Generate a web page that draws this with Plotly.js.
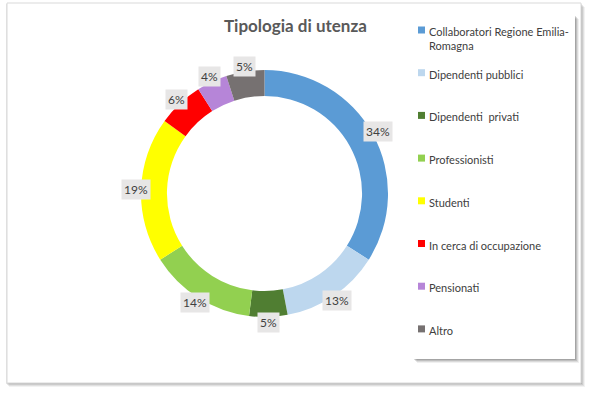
<!DOCTYPE html>
<html>
<head>
<meta charset="utf-8">
<script src="https://cdn.plot.ly/plotly-3.0.1.min.js"></script>
<style>html,body{margin:0;padding:0;background:#fff;}#chart{width:590px;height:395px;}</style>
</head>
<body>
<div id="chart"></div>
<script>
// ---- data ----
const categories = ["Collaboratori Regione Emilia-Romagna", "Dipendenti pubblici", "Dipendenti  privati", "Professionisti", "Studenti", "In cerca di occupazione", "Pensionati", "Altro"];
const legendLabels = ["Collaboratori Regione Emilia-<br>Romagna", "Dipendenti pubblici", "Dipendenti  privati", "Professionisti", "Studenti", "In cerca di occupazione", "Pensionati", "Altro"];
const values = [34, 13, 5, 14, 19, 6, 4, 5];
const colors = ["#5B9BD5", "#BDD7EE", "#507E32", "#92D050", "#FFFF00", "#FF0000", "#B685D8", "#767171"];
const chartTitle = "Tipologia di utenza";

// ---- layout helpers (pixels -> paper) ----
const W = 590, H = 395;
const px = x => x / W;
const py = y => 1 - y / H;
const FONT = "Lato, 'Noto Sans', sans-serif";

const cx = 264.5, cy = 193.5, R = 123.5;

const trace = {
  type: "pie",
  labels: categories,
  values: values,
  sort: false,
  direction: "clockwise",
  rotation: 0,
  hole: 0.79,
  marker: {colors: colors, line: {width: 0}},
  textinfo: "none",
  hoverinfo: "label+percent",
  showlegend: false,
  domain: {x: [px(cx - R), px(cx + R)], y: [py(cy + R), py(cy - R)]}
};

const shapes = [];
// outer chart frame with soft shadow
[[4, "rgba(0,0,0,0.05)"], [3, "rgba(0,0,0,0.07)"], [2, "rgba(0,0,0,0.09)"], [1, "rgba(0,0,0,0.10)"]].forEach(([o, c]) => {
  shapes.push({type: "rect", xref: "paper", yref: "paper", layer: "below",
    x0: px(7 - 2 + o), x1: px(581 + o), y0: py(383 + o), y1: py(3 + o),
    fillcolor: c, line: {width: 0}});
});
shapes.push({type: "rect", xref: "paper", yref: "paper", layer: "below",
  x0: px(7), x1: px(581), y0: py(383), y1: py(3),
  fillcolor: "#ffffff", line: {color: "#D9D9D9", width: 1}});
// legend box with shadow
[[4, "rgba(0,0,0,0.06)"], [3, "rgba(0,0,0,0.09)"], [2, "rgba(0,0,0,0.12)"], [1, "rgba(0,0,0,0.14)"]].forEach(([o, c]) => {
  shapes.push({type: "rect", xref: "paper", yref: "paper", layer: "below",
    x0: px(413 + o), x1: px(575 + o), y0: py(359 + o), y1: py(15 + o),
    fillcolor: c, line: {width: 0}});
});
shapes.push({type: "rect", xref: "paper", yref: "paper", layer: "below",
  x0: px(413), x1: px(575), y0: py(359), y1: py(15),
  fillcolor: "#ffffff", line: {width: 0}});

const annotations = [];
annotations.push({text: "<b>" + chartTitle + "</b>", xref: "paper", yref: "paper",
  x: px(295), y: py(25), xanchor: "center", yanchor: "middle", showarrow: false,
  font: {family: FONT, size: 17, color: "#595959"}});

// legend entries
const legTop = 30, legStep = 42.7;
categories.forEach((c, i) => {
  const yc = legTop + i * legStep;
  shapes.push({type: "rect", xref: "paper", yref: "paper",
    x0: px(418), x1: px(425), y0: py(yc + 3.5), y1: py(yc - 3.5),
    fillcolor: colors[i], line: {width: 0}});
  annotations.push({text: legendLabels[i], xref: "paper", yref: "paper",
    x: px(427), y: py(yc - 7), xanchor: "left", yanchor: "top", align: "left",
    showarrow: false, font: {family: FONT, size: 11, color: "#404040"}});
});

// data labels around ring, positions derived from values
const total = values.reduce((a, b) => a + b, 0);
let cum = 0;
values.forEach((v, i) => {
  const mid = (cum + v / 2) / total * 2 * Math.PI;
  cum += v;
  const rr = 129;
  const x = cx + rr * Math.sin(mid);
  const y = cy - rr * Math.cos(mid);
  annotations.push({text: Math.round(v / total * 100) + "%", xref: "paper", yref: "paper",
    x: px(x), y: py(y), xanchor: "center", yanchor: "middle", showarrow: false,
    bgcolor: "#E7E6E6", borderpad: 2,
    font: {family: FONT, size: 12, color: "#404040"}});
});

const layout = {
  width: W, height: H,
  margin: {l: 0, r: 0, t: 0, b: 0},
  paper_bgcolor: "#ffffff",
  showlegend: false,
  shapes: shapes,
  annotations: annotations
};

Plotly.newPlot("chart", [trace], layout, {displayModeBar: false, staticPlot: true});
</script>
</body>
</html>
